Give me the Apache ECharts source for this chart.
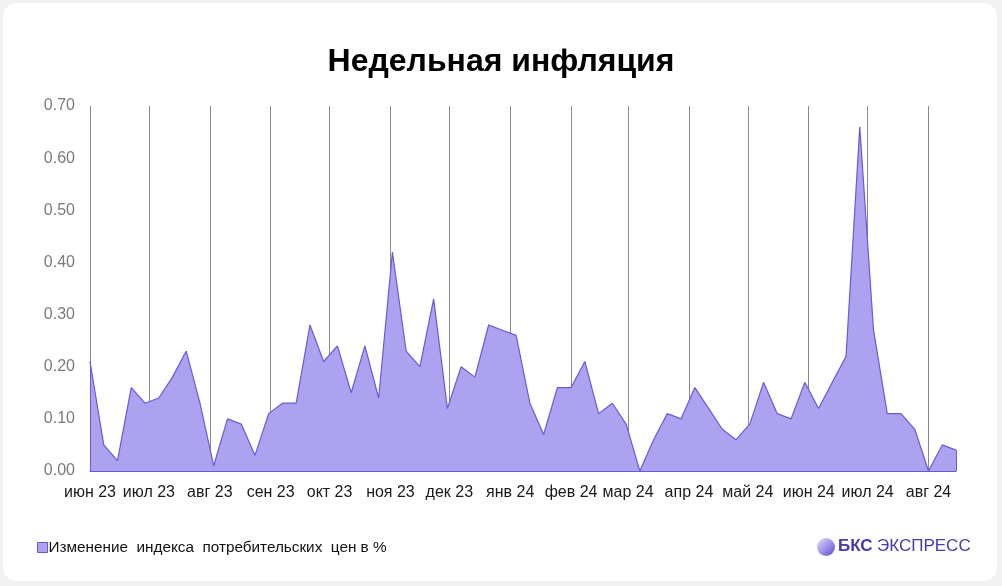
<!DOCTYPE html>
<html>
<head>
<meta charset="utf-8">
<script src="https://cdn.jsdelivr.net/npm/echarts@6/dist/echarts.min.js"></script>
<style>
  html, body { margin: 0; padding: 0; width: 1002px; height: 586px; overflow: hidden; background: #f2f2f2; }
  #card { position: absolute; left: 3px; top: 3px; width: 994px; height: 578px; background: #ffffff; border-radius: 14px; }
  #chart { position: absolute; left: 0; top: 0; width: 1002px; height: 586px; }
</style>
</head>
<body>
<div id="card"></div>
<div id="chart"></div>
<script>
const titleText = 'Недельная инфляция';
const seriesName = 'Изменение  индекса  потребительских  цен в %';
const monthNames = ['янв','фев','мар','апр','май','июн','июл','авг','сен','окт','ноя','дек'];
const yTicks = [0, 0.1, 0.2, 0.3, 0.4, 0.5, 0.6, 0.7];
const dates = [
  '2023-06-01','2023-06-08','2023-06-15','2023-06-22','2023-06-29',
  '2023-07-06','2023-07-13','2023-07-20','2023-07-27',
  '2023-08-03','2023-08-10','2023-08-17','2023-08-24','2023-08-31',
  '2023-09-07','2023-09-14','2023-09-21','2023-09-28',
  '2023-10-05','2023-10-12','2023-10-19','2023-10-26',
  '2023-11-02','2023-11-09','2023-11-16','2023-11-23','2023-11-30',
  '2023-12-07','2023-12-14','2023-12-21','2023-12-28',
  '2024-01-04','2024-01-11','2024-01-18','2024-01-25',
  '2024-02-01','2024-02-08','2024-02-15','2024-02-22','2024-02-29',
  '2024-03-07','2024-03-14','2024-03-21','2024-03-28',
  '2024-04-04','2024-04-11','2024-04-18','2024-04-25',
  '2024-05-02','2024-05-09','2024-05-16','2024-05-23','2024-05-30',
  '2024-06-06','2024-06-13','2024-06-20','2024-06-27',
  '2024-07-04','2024-07-11','2024-07-18','2024-07-25',
  '2024-08-01','2024-08-08','2024-08-15'
];
const values = [
  0.21, 0.05, 0.02, 0.16, 0.13,
  0.14, 0.18, 0.23, 0.13,
  0.01, 0.10, 0.09, 0.03, 0.11,
  0.13, 0.13, 0.28, 0.21,
  0.24, 0.15, 0.24, 0.14,
  0.42, 0.23, 0.20, 0.33, 0.12,
  0.20, 0.18, 0.28, 0.27,
  0.26, 0.13, 0.07, 0.16,
  0.16, 0.21, 0.11, 0.13, 0.09,
  0.00, 0.06, 0.11, 0.10,
  0.16, 0.12, 0.08, 0.06,
  0.09, 0.17, 0.11, 0.10, 0.17,
  0.12, 0.17, 0.22, 0.66,
  0.27, 0.11, 0.11, 0.08,
  0.00, 0.05, 0.04
];

const lineColor = '#6a5ad6';
const fillColor = '#ada2f0';
const font = '"Liberation Sans", Arial, sans-serif';

const seriesData = dates.map((d, i) => [d, values[i]]);
const lastIdx = dates.length - 1;

const chart = echarts.init(document.getElementById('chart'), null, { renderer: 'canvas' });
chart.setOption({
  backgroundColor: 'transparent',
  animation: false,
  title: {
    text: titleText,
    left: 'center',
    top: 41,
    textStyle: { fontFamily: font, fontSize: 32, fontWeight: 'bold', color: '#000' }
  },
  grid: { left: 90, right: 46, top: 106, bottom: 115, containLabel: false },
  legend: {
    left: 32,
    top: 535,
    icon: 'rect',
    itemWidth: 10,
    itemHeight: 10,
    itemGap: 10,
    textStyle: { fontFamily: font, fontSize: 15.3, color: '#111', padding: [0, 0, 0, -4] },
    itemStyle: { color: fillColor, borderColor: lineColor, borderWidth: 1 },
    data: [seriesName]
  },
  xAxis: {
    type: 'time',
    min: dates[0],
    max: dates[lastIdx],
    splitNumber: 15,
    minInterval: 28 * 86400000,
    maxInterval: 31 * 86400000,
    axisLine: { show: true, lineStyle: { color: lineColor, width: 1 } },
    axisTick: { show: false },
    axisLabel: {
      fontFamily: font,
      fontSize: 16,
      color: '#1a1a1a',
      margin: 14,
      showMinLabel: true,
      showMaxLabel: false,
      hideOverlap: false,
      formatter: function (val) {
        const d = new Date(val);
        if (d.getDate() !== 1) return '';
        return monthNames[d.getMonth()] + ' ' + String(d.getFullYear()).slice(2);
      }
    },
    splitLine: { show: true, showMaxLine: false, lineStyle: { color: '#8a8a8a', width: 1 } }
  },
  yAxis: {
    type: 'value',
    min: yTicks[0],
    max: yTicks[yTicks.length - 1],
    interval: 0.1,
    axisLine: { show: false },
    axisTick: { show: false },
    splitLine: { show: false },
    axisLabel: {
      fontFamily: font,
      fontSize: 16,
      color: '#7a7a7a',
      margin: 15,
      formatter: v => v.toFixed(2)
    }
  },
  series: [{
    name: seriesName,
    type: 'line',
    data: seriesData,
    symbol: 'none',
    lineStyle: { color: lineColor, width: 1.2 },
    itemStyle: { color: fillColor, borderColor: lineColor },
    areaStyle: { color: fillColor, opacity: 1 },
    markLine: {
      silent: true,
      symbol: 'none',
      label: { show: false },
      lineStyle: { color: lineColor, width: 1, type: 'solid' },
      data: [
        [{ coord: [dates[0], 0] }, { coord: [dates[0], values[0]] }],
        [{ coord: [dates[lastIdx], 0] }, { coord: [dates[lastIdx], values[lastIdx]] }]
      ]
    }
  }],
  graphic: [{
    type: 'group',
    left: 817,
    top: 538,
    children: [
      {
        type: 'circle',
        shape: { cx: 9, cy: 10, r: 9 },
        style: {
          fill: {
            type: 'linear', x: 0, y: 0, x2: 1, y2: 1,
            colorStops: [
              { offset: 0, color: '#e6e2fb' },
              { offset: 0.45, color: '#a79cec' },
              { offset: 1, color: '#5b48c8' }
            ]
          }
        }
      },
      {
        type: 'text',
        x: 21,
        y: 1,
        style: { text: 'БКС', font: 'bold 17px "Liberation Sans", Arial, sans-serif', fill: '#4a3aa8' }
      },
      {
        type: 'text',
        x: 60,
        y: 1,
        style: { text: 'ЭКСПРЕСС', font: '17px "Liberation Sans", Arial, sans-serif', fill: '#4a3aa8' }
      }
    ]
  }]
});
</script>
</body>
</html>
